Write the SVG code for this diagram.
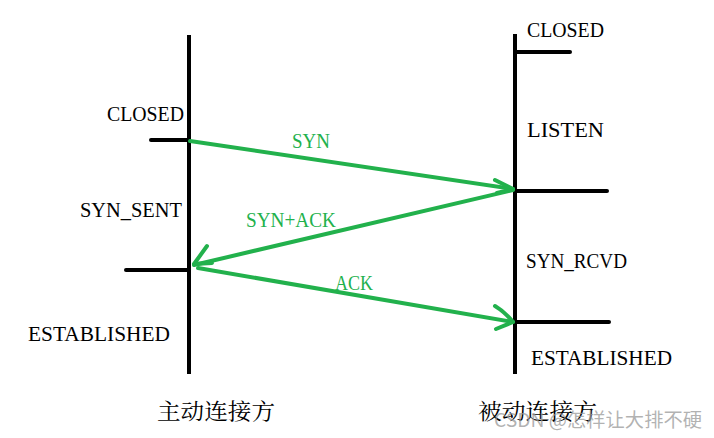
<svg xmlns="http://www.w3.org/2000/svg" width="714" height="438" viewBox="0 0 714 438">
<style>
.life{stroke:#000;stroke-width:4;stroke-linecap:square;fill:none}
.tick{stroke:#000;stroke-width:4;stroke-linecap:round;fill:none}
.msg{stroke:#22b14c;stroke-width:4;stroke-linecap:round;stroke-linejoin:round;fill:none}
.st{font-family:"Liberation Serif",serif;font-size:20px;fill:#000}
.lbl{font-family:"Liberation Serif",serif;font-size:20px;fill:#22b14c}
.cjk{font-family:"Noto Serif CJK SC","Noto Sans CJK SC",serif;font-size:22px;fill:#000}
.wm{font-family:"Noto Sans CJK SC",sans-serif;font-size:19px;fill:#999;fill-opacity:0.75}
</style>
<rect width="714" height="438" fill="#fff"/>
<g id="client">
<line class="life" x1="189" y1="37" x2="189" y2="372"/>
<line class="tick" x1="151" y1="140" x2="189" y2="140"/>
<line class="tick" x1="126" y1="270" x2="189" y2="270"/>
<text class="st" x="107" y="121" textLength="77" lengthAdjust="spacingAndGlyphs">CLOSED</text>
<text class="st" x="80" y="217" textLength="102" lengthAdjust="spacingAndGlyphs">SYN_SENT</text>
<text class="st" x="28" y="341" textLength="142" lengthAdjust="spacingAndGlyphs">ESTABLISHED</text>
<text class="cjk" x="157" y="419" textLength="118" lengthAdjust="spacingAndGlyphs">主动连接方</text>
</g>
<g id="server">
<line class="life" x1="515" y1="36" x2="515" y2="372"/>
<line class="tick" x1="515" y1="52" x2="570" y2="52"/>
<line class="tick" x1="515" y1="191" x2="607" y2="191"/>
<line class="tick" x1="515" y1="322" x2="609" y2="322"/>
<text class="st" x="527" y="37" textLength="77" lengthAdjust="spacingAndGlyphs">CLOSED</text>
<text class="st" x="527" y="137" textLength="77" lengthAdjust="spacingAndGlyphs">LISTEN</text>
<text class="st" x="526" y="268" textLength="101" lengthAdjust="spacingAndGlyphs">SYN_RCVD</text>
<text class="st" x="531" y="365" textLength="141" lengthAdjust="spacingAndGlyphs">ESTABLISHED</text>
<text class="cjk" x="478" y="419" textLength="119" lengthAdjust="spacingAndGlyphs">被动连接方</text>
</g>
<g id="connectors">
<path class="msg" d="M190 141 L513 189"/>
<path class="msg" d="M495 180 L513 189 L497 193"/>
<path class="msg" d="M513 190 L194 265"/>
<path class="msg" d="M207 246 L194 264 L212 263"/>
<path class="msg" d="M198 268 L513 322"/>
<path class="msg" d="M495 306 Q505 312 513 322 L496 329"/>
<text class="lbl" x="292" y="148" textLength="38" lengthAdjust="spacingAndGlyphs">SYN</text>
<text class="lbl" x="246" y="227" textLength="90" lengthAdjust="spacingAndGlyphs">SYN+ACK</text>
<text class="lbl" x="335" y="290" textLength="38" lengthAdjust="spacingAndGlyphs">ACK</text>
</g>
<text class="wm" x="494" y="427" textLength="208" lengthAdjust="spacingAndGlyphs">CSDN @怎样让大排不硬</text>
</svg>
